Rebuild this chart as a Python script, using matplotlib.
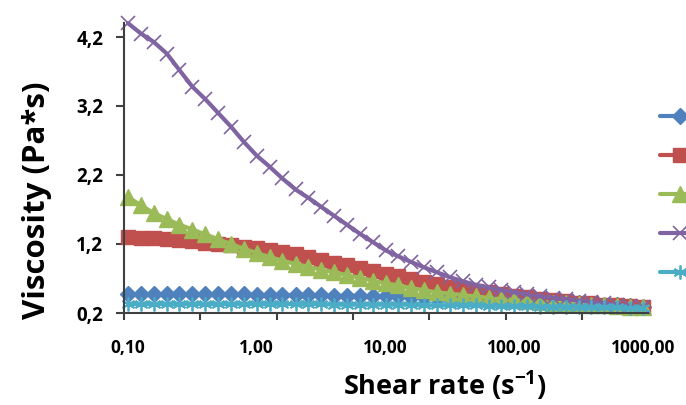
import numpy as np
import matplotlib
matplotlib.use("Agg")
import matplotlib.pyplot as plt
from matplotlib.ticker import FixedLocator, NullFormatter

plt.rcParams["font.family"] = ["Open Sans", "DejaVu Sans"]
plt.rcParams["mathtext.fontset"] = "custom"
plt.rcParams["mathtext.rm"] = "Open Sans"
plt.rcParams["mathtext.bf"] = "Open Sans:bold"
plt.rcParams["mathtext.default"] = "bf"

# shear rate grid (s^-1), 10 points per decade
shear_rate = [0.1, 0.126, 0.158, 0.2, 0.251, 0.316, 0.398, 0.501, 0.631, 0.794,
              1.0, 1.26, 1.58, 2.0, 2.51, 3.16, 3.98, 5.01, 6.31, 7.94,
              10.0, 12.6, 15.8, 20.0, 25.1, 31.6, 39.8, 50.1, 63.1, 79.4,
              100.0, 126.0, 158.0, 200.0, 251.0, 316.0, 398.0, 501.0, 631.0, 794.0,
              1000.0]

# viscosity (Pa*s)
visc_blue = [0.47, 0.47, 0.47, 0.47, 0.47, 0.47, 0.47, 0.47, 0.47, 0.47,
             0.46, 0.46, 0.46, 0.46, 0.46, 0.46, 0.45, 0.45, 0.45, 0.44,
             0.44, 0.44, 0.43, 0.43, 0.43, 0.42, 0.42, 0.41, 0.41, 0.40,
             0.39, 0.38, 0.37, 0.36, 0.35, 0.34, 0.33, 0.32, 0.31, 0.30,
             0.29]
visc_red = [1.30, 1.29, 1.28, 1.27, 1.26, 1.24, 1.22, 1.20, 1.18, 1.16,
            1.14, 1.11, 1.08, 1.05, 1.01, 0.97, 0.93, 0.89, 0.85, 0.81,
            0.77, 0.73, 0.69, 0.65, 0.62, 0.58, 0.55, 0.52, 0.50, 0.47,
            0.45, 0.43, 0.41, 0.39, 0.37, 0.35, 0.34, 0.32, 0.31, 0.30,
            0.29]
visc_green = [1.88, 1.76, 1.65, 1.56, 1.48, 1.41, 1.34, 1.27, 1.20, 1.13,
              1.07, 1.01, 0.96, 0.91, 0.87, 0.83, 0.79, 0.75, 0.71, 0.67,
              0.63, 0.60, 0.56, 0.53, 0.50, 0.48, 0.46, 0.44, 0.42, 0.40,
              0.39, 0.37, 0.36, 0.35, 0.34, 0.33, 0.32, 0.31, 0.30, 0.29,
              0.28]
visc_purple = [4.40, 4.25, 4.13, 3.96, 3.72, 3.48, 3.30, 3.10, 2.90, 2.68,
               2.48, 2.32, 2.15, 1.99, 1.87, 1.74, 1.61, 1.48, 1.35, 1.23,
               1.11, 1.02, 0.94, 0.86, 0.79, 0.72, 0.66, 0.61, 0.57, 0.53,
               0.50, 0.47, 0.44, 0.42, 0.40, 0.38, 0.36, 0.34, 0.32, 0.30,
               0.28]
visc_cyan = [0.33, 0.33, 0.33, 0.33, 0.33, 0.33, 0.33, 0.33, 0.33, 0.33,
             0.33, 0.33, 0.33, 0.33, 0.33, 0.33, 0.32, 0.32, 0.32, 0.32,
             0.32, 0.32, 0.32, 0.31, 0.31, 0.31, 0.31, 0.31, 0.30, 0.30,
             0.30, 0.30, 0.29, 0.29, 0.29, 0.29, 0.28, 0.28, 0.28, 0.27,
             0.27]

x_label_vals = [0.1, 1.0, 10.0, 100.0, 1000.0]
x_tick_labels = ["0,10", "1,00", "10,00", "100,00", "1000,00"]
y_tick_vals = [0.2, 1.2, 2.2, 3.2, 4.2]
y_tick_labels = ["0,2", "1,2", "2,2", "3,2", "4,2"]

# (values, colour, marker, size, edge width)
series = [
    (visc_blue,   "#4F81BD", "D",       8.0, 1.0),
    (visc_red,    "#C0504D", "s",      10.0, 1.0),
    (visc_green,  "#9BBB59", "^",      11.0, 1.0),
    (visc_purple, "#8064A2", "x",      10.0, 1.2),
    (visc_cyan,   "#4BACC6", (6, 2, 0), 10.0, 1.3),
]

W, H = 686, 405
fig = plt.figure(figsize=(W / 100, H / 100), dpi=100)
ax = fig.add_axes([124 / W, 1 - 313 / H, 524 / W, 290 / H])

handles = []
for vals, col, mk, ms, mew in series:
    ln, = ax.plot(shear_rate, vals, color=col, lw=3.0, marker=mk, ms=ms,
                  mfc=col, mec=col, mew=mew, clip_on=False,
                  solid_joinstyle="round", solid_capstyle="round")
    handles.append(ln)

# axis geometry: one decade ~ 128.75 px, 0.1 sits 4 px right of the y axis
dec = 128.75
xmin = 0.1 * 10 ** (-4 / dec)
xmax = 0.1 * 10 ** (520 / dec)
ax.set_xscale("log")
ax.set_xlim(xmin, xmax)
ax.set_ylim(0.2, 0.2 + 290 / 69.0)

ax.xaxis.set_major_locator(FixedLocator(x_label_vals))
ax.set_xticklabels(x_tick_labels)
ax.xaxis.set_minor_locator(FixedLocator(xmin * 10 ** (76.3 / dec * np.arange(7))))
ax.xaxis.set_minor_formatter(NullFormatter())
ax.tick_params(axis="x", which="major", length=0, pad=19)
ax.tick_params(axis="x", which="minor", length=5, width=1.5, color="#404040",
               direction="out")

ax.set_yticks(y_tick_vals)
ax.set_yticklabels(y_tick_labels)
ax.tick_params(axis="y", length=6, width=1.5, color="#404040", pad=9)

for lab in ax.get_xticklabels():
    lab.set_fontsize(12.5)
    lab.set_fontweight("bold")
for lab in ax.get_yticklabels():
    lab.set_fontsize(13.5)
    lab.set_fontweight("bold")

for s in ["top", "right"]:
    ax.spines[s].set_visible(False)
for s in ["left", "bottom"]:
    ax.spines[s].set_linewidth(1.5)
    ax.spines[s].set_color("#404040")

ax.set_xlabel("Shear rate (s$^{-1}$)", fontsize=19.5, fontweight="bold")
ax.xaxis.set_label_coords((445 - 124) / 524, (313 - 369) / 290)
ax.set_ylabel("Viscosity (Pa*s)", fontsize=22.5, fontweight="bold")
ax.yaxis.set_label_coords((52 - 124) / 524, (313 - 200) / 290)

fig.legend(handles, [" "] * len(handles), loc="upper left",
           bbox_to_anchor=(660 / W, 1 - 110 / H), frameon=False,
           fontsize=10, handlelength=2.9, borderpad=0, borderaxespad=0,
           labelspacing=1.72, handletextpad=0.4)

fig.savefig("out.png", dpi=100)
